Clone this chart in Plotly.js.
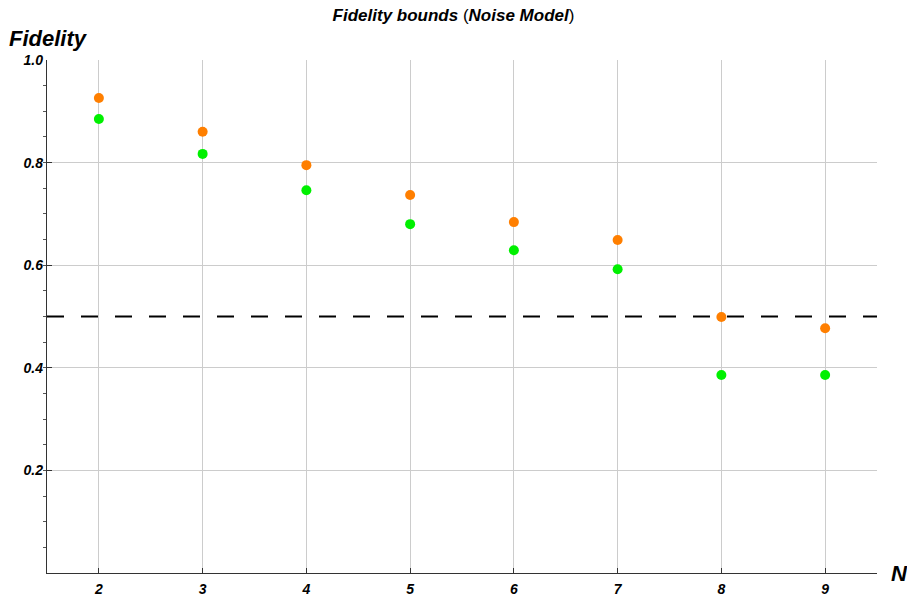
<!DOCTYPE html>
<html><head><meta charset="utf-8">
<script src="https://cdn.plot.ly/plotly-3.0.1.min.js"></script>
<style>body{margin:0;background:#fff}#c{width:907px;height:598px}</style>
</head><body><div id="c"></div>
<script>
const nValues = [2, 3, 4, 5, 6, 7, 8, 9];
const upperBound = [0.926, 0.860, 0.795, 0.737, 0.684, 0.649, 0.499, 0.477];
const lowerBound = [0.885, 0.817, 0.746, 0.680, 0.629, 0.592, 0.386, 0.386];
const thresholdX = [1.5, 9.5];
const thresholdY = [0.5, 0.5];
const yTicks = [0.2, 0.4, 0.6, 0.8, 1.0];
const yTickLabels = ['0.2', '0.4', '0.6', '0.8', '1.0'];

const bi = s => '<b><i>' + s + '</i></b>';
const tickFont = {family: 'Liberation Sans, Arial, sans-serif', size: 14, color: '#000'};
const data = [
  {x: nValues, y: upperBound, type: 'scatter', mode: 'markers',
   marker: {color: '#FF7F00', size: 10}, hoverinfo: 'x+y'},
  {x: nValues, y: lowerBound, type: 'scatter', mode: 'markers',
   marker: {color: '#00F000', size: 10}, hoverinfo: 'x+y'},
  {x: thresholdX, y: thresholdY, type: 'scatter', mode: 'lines',
   line: {color: '#000', width: 2, dash: '17px,17px'}, hoverinfo: 'skip'}
];
const layout = {
  width: 907, height: 598,
  margin: {l: 47, r: 30, t: 60, b: 25},
  showlegend: false,
  paper_bgcolor: '#fff', plot_bgcolor: '#fff',
  title: {text: bi('Fidelity bounds') + ' (' + bi('Noise Model') + ')',
          font: {family: 'Liberation Sans, Arial, sans-serif', size: 17, color: '#000'},
          x: 0.5, xanchor: 'center', y: 0.984, yanchor: 'top'},
  xaxis: {range: [1.5, 9.5], tickvals: nValues, ticktext: nValues.map(v => bi(String(v))),
          showgrid: true, gridcolor: '#cccccc', gridwidth: 1,
          zeroline: false, showline: true, linecolor: '#333', linewidth: 1.2,
          ticks: 'inside', ticklen: 5, tickcolor: '#333', ticklabelstandoff: 3,
          tickfont: tickFont, fixedrange: true},
  yaxis: {range: [0, 1], tickvals: yTicks, ticktext: yTickLabels.map(bi),
          showgrid: true, gridcolor: '#cccccc', gridwidth: 1,
          zeroline: false, showline: true, linecolor: '#333', linewidth: 1.2,
          ticks: 'inside', ticklen: 5, tickcolor: '#333',
          minor: {dtick: 0.05, ticklen: 3, tickcolor: '#555', showgrid: false},
          tickfont: tickFont, fixedrange: true},
  annotations: [
    {text: bi('Fidelity'), xref: 'paper', yref: 'paper', x: -0.048, y: 1.0,
     xanchor: 'left', yanchor: 'bottom', yshift: 7, showarrow: false,
     font: {family: 'Liberation Sans, Arial, sans-serif', size: 22, color: '#000'}},
    {text: bi('N'), xref: 'paper', yref: 'paper', x: 1.0, y: 0,
     xanchor: 'left', yanchor: 'middle', xshift: 12, showarrow: false,
     font: {family: 'Liberation Sans, Arial, sans-serif', size: 22, color: '#000'}}
  ]
};
Plotly.newPlot('c', data, layout, {displayModeBar: false, staticPlot: true});
</script></body></html>
